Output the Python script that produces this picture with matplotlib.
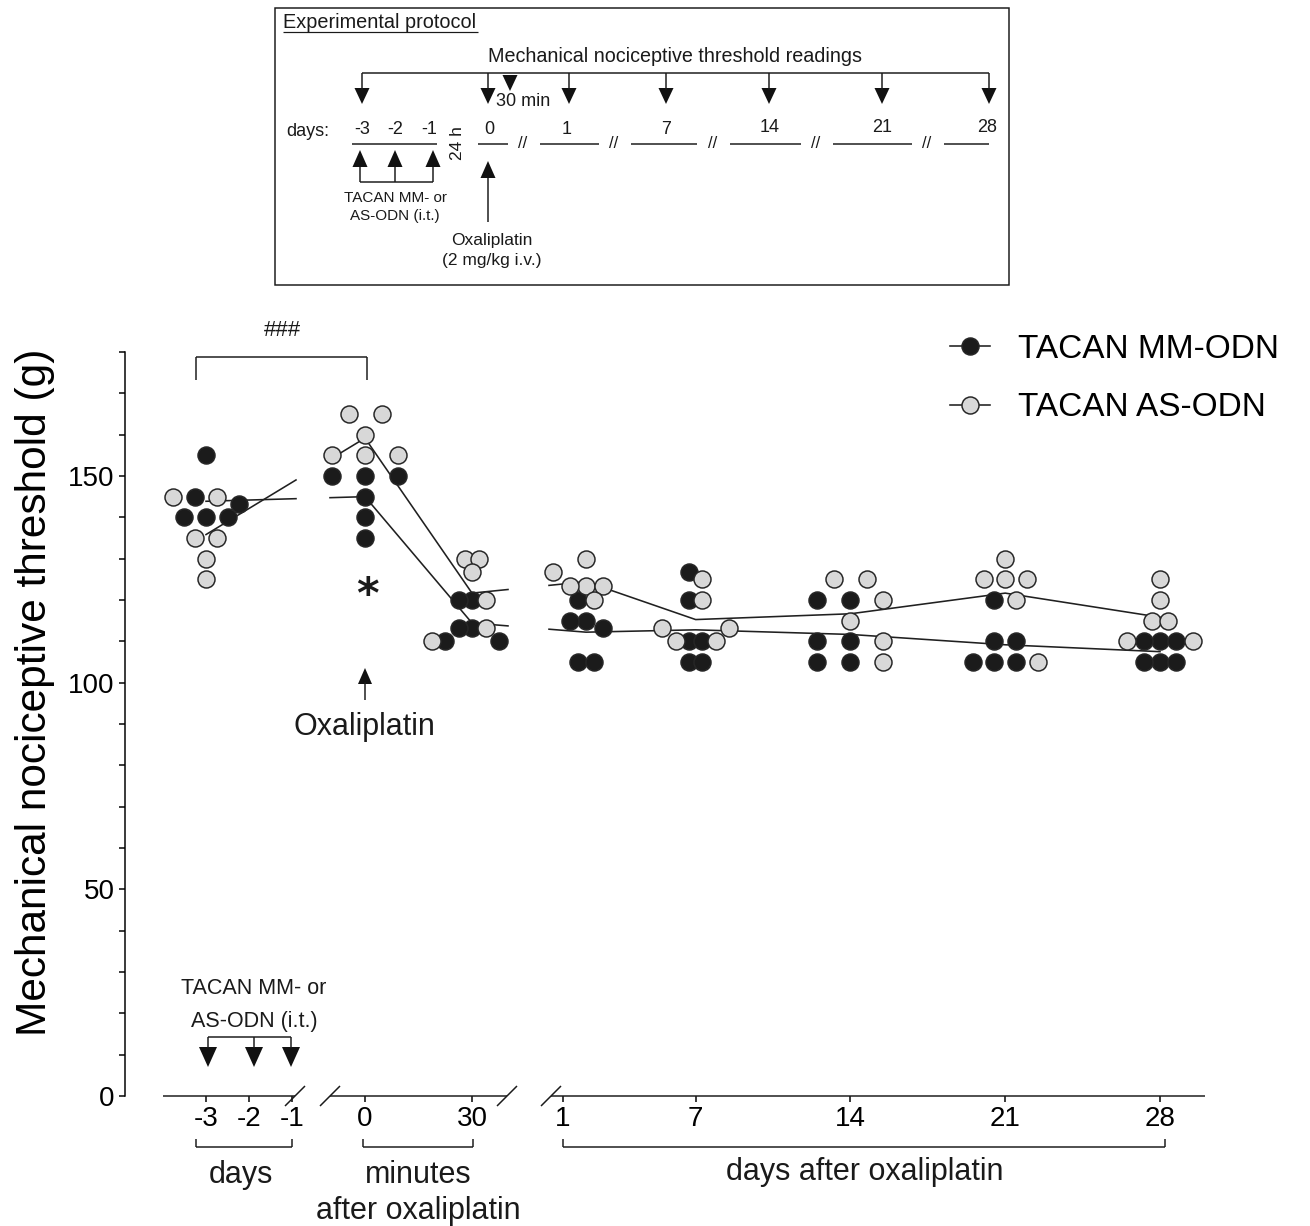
import math
import numpy as np
import matplotlib
matplotlib.use("Agg")
import matplotlib.pyplot as plt
from matplotlib.patches import Polygon, Rectangle

plt.rcParams["font.family"] = ["Liberation Sans", "DejaVu Sans"]

# ---------------------------------------------------------------- data
group_names = ["TACAN MM-ODN", "TACAN AS-ODN"]
pre_day_ticks = [-3, -2, -1]
minute_ticks = [0, 30]
post_day_ticks = [1, 7, 14, 21, 28]
tick_labels = ["-3", "-2", "-1", "0", "30", "1", "7", "14", "21", "28"]

# reading time points: axis segment + time value
reading_segment = ["pre", "min", "min", "post", "post", "post", "post", "post"]
reading_time = [-3, 0, 30, 1, 7, 14, 21, 28]

# individual mechanical nociceptive thresholds (g), one row per time point
mm_odn = [
    [155, 145, 143.3, 140, 140, 140],
    [150, 150, 150, 145, 140, 135],
    [120, 120, 113.3, 113.3, 110, 110],
    [120, 115, 115, 113.3, 105, 105],
    [126.7, 120, 110, 110, 105, 105],
    [120, 120, 110, 110, 105, 105],
    [120, 110, 110, 105, 105, 105],
    [110, 110, 110, 105, 105, 105],
]
as_odn = [
    [145, 145, 135, 135, 130, 125],
    [165, 165, 160, 155, 155, 155],
    [130, 130, 126.7, 120, 113.3, 110],
    [130, 126.7, 123.3, 123.3, 123.3, 120],
    [125, 120, 113.3, 113.3, 110, 110],
    [125, 125, 120, 115, 110, 105],
    [130, 125, 125, 125, 120, 105],
    [125, 120, 115, 115, 110, 110],
]

# ---------------------------------------------------------------- layout
W, H, DPI = 1310, 1226, 100
PX = 72 / DPI  # points per pixel


def pos_pre(d):
    return 206 + (d + 3) * 43.0


def pos_min(m):
    return 365 + m * (107 / 30)


def pos_post(d):
    return 563 + (d - 1) * (597 / 27)


POS = {"pre": pos_pre, "min": pos_min, "post": pos_post}
column_shift = [0, 0, 0, 23, 0, 0, 0, 0]      # day-1 column sits right of its tick
column_spread = [22, 33, 13.5, 16.5, 13.3, 33, 21.7, 16.3]
GAPS = [(296, 330), (508, 549)]
AX_L, AX_R, AX_B, AX_T = 125, 1210, 1096, 352
YMAX = 180
YPX = (AX_B - AX_T) / YMAX

fig = plt.figure(figsize=(W / DPI, H / DPI), dpi=DPI)
ax = fig.add_axes([AX_L / W, 1 - AX_B / H, (AX_R - AX_L) / W, (AX_B - AX_T) / H])
ax.set_xlim(AX_L, AX_R)
ax.set_ylim(0, YMAX)


def swarm(vals_a, vals_b, s, tol=2.0, dmin=15.0):
    items = [(v, 0, i) for i, v in enumerate(vals_a)] + [(v, 1, i) for i, v in enumerate(vals_b)]
    items.sort(key=lambda t: (-t[0], t[1]))
    rows = []
    for it in items:
        if rows and rows[-1][0][0] - it[0] <= tol + 1e-9:
            rows[-1].append(it)
        else:
            rows.append([it])
    order = sorted(range(len(rows)), key=lambda r: (-len(rows[r]), -rows[r][0][0]))
    placed = []
    out = {0: [0.0] * len(vals_a), 1: [0.0] * len(vals_b)}
    for r in order:
        row = rows[r]
        if len(row) % 2:
            cands = [0.0] + [sg * k * s for k in range(1, 15) for sg in (-1, 1)]
        else:
            cands = [sg * (k - 0.5) * s for k in range(1, 15) for sg in (-1, 1)]
        ci = 0
        mine = []
        for v, g, i in row:
            while True:
                c = cands[ci]
                ci += 1
                if all(math.hypot(c - px, (v - pv) * YPX) >= dmin for px, pv in placed):
                    break
            mine.append((c, v))
            out[g][i] = c
        placed.extend(mine)
    return out


def broken(xs, ys, gaps):
    X, Y = [xs[0]], [ys[0]]
    for i in range(1, len(xs)):
        x0, y0, x1, y1 = xs[i - 1], ys[i - 1], xs[i], ys[i]
        for a, b in gaps:
            if x0 < a and x1 > b:
                ya = y0 + (y1 - y0) * (a - x0) / (x1 - x0)
                yb = y0 + (y1 - y0) * (b - x0) / (x1 - x0)
                X += [a, np.nan, b]
                Y += [ya, np.nan, yb]
        X.append(x1)
        Y.append(y1)
    return X, Y


cx = [POS[s](t) + sh for s, t, sh in zip(reading_segment, reading_time, column_shift)]
pts = {0: ([], []), 1: ([], [])}
for k in range(len(cx)):
    offs = swarm(mm_odn[k], as_odn[k], column_spread[k])
    for g, vals in ((0, mm_odn[k]), (1, as_odn[k])):
        for v, o in zip(vals, offs[g]):
            pts[g][0].append(cx[k] + o)
            pts[g][1].append(v)

means = [[float(np.mean(v)) for v in data] for data in (mm_odn, as_odn)]
face = ["#1b1b1b", "#d8d8d8"]
handles = []
for g in (0, 1):
    X, Y = broken(cx, means[g], GAPS)
    ln, = ax.plot(X, Y, color="#202020", lw=1.6 * PX, zorder=2)
    mk, = ax.plot(pts[g][0], pts[g][1], ls="none", marker="o", ms=17 * PX,
                  mfc=face[g], mec="#262626", mew=1.5 * PX, zorder=3 + g, clip_on=False)
    handles.append((ln, mk))

for s in ("top", "right", "bottom"):
    ax.spines[s].set_visible(False)
ax.spines["left"].set_linewidth(1.5 * PX)
ax.set_yticks([0, 50, 100, 150])
ax.set_yticks([v for v in range(10, YMAX + 1, 10) if v % 50], minor=True)
ax.tick_params(axis="y", which="both", direction="out", length=6 * PX, width=1.5 * PX,
               labelsize=20, pad=3)
xt = [pos_pre(d) for d in pre_day_ticks] + [pos_min(m) for m in minute_ticks] + \
     [pos_post(d) for d in post_day_ticks]
ax.set_xticks(xt, tick_labels)
ax.tick_params(axis="x", direction="out", length=6 * PX, width=1.5 * PX, labelsize=20, pad=3)
ax.set_ylabel("Mechanical nociceptive threshold (g)", fontsize=30.5)
ax.yaxis.set_label_coords((35 - AX_L) / (AX_R - AX_L), (AX_B - 692) / (AX_B - AX_T))
ax.yaxis.label.set_va("center")

ax.legend(handles=handles, labels=group_names, loc="upper left",
          bbox_to_anchor=(950 / W, 1 - 334 / H), bbox_transform=fig.transFigure,
          frameon=False, fontsize=24, handlelength=1.2, handletextpad=0.84,
          labelspacing=0.82, borderpad=0, borderaxespad=0, numpoints=1)

# ---------------------------------------------------------------- overlay (pixel coords)
ov = fig.add_axes([0, 0, 1, 1])
ov.set_xlim(0, W)
ov.set_ylim(H, 0)
ov.axis("off")
INK = "#1a1a1a"


def seg(x0, y0, x1, y1, lw=1.5):
    ov.plot([x0, x1], [y0, y1], color=INK, lw=lw * PX, solid_capstyle="butt")


def tri(x, ytip, up, w, h):
    base = ytip + h if up else ytip - h
    ov.add_patch(Polygon([(x - w / 2, base), (x + w / 2, base), (x, ytip)], closed=True,
                         fc="#111111", ec="none"))


def txt(x, y, s, size, **kw):
    ha = kw.pop("ha", "center")
    va = kw.pop("va", "center")
    ov.text(x, y, s, fontsize=size, ha=ha, va=va, color=INK, **kw)


# broken x axis
for a, b in [(163, 295), (330, 507), (551, 1205)]:
    seg(a, AX_B, b, AX_B)
for x in (295, 330, 507, 551):
    seg(x - 10, AX_B + 10, x + 10, AX_B - 10)


def under_bracket(x0, x1, y=1147, up=8):
    seg(x0, y, x1, y)
    seg(x0, y, x0, y - up)
    seg(x1, y, x1, y - up)


under_bracket(196, 292)
under_bracket(363, 473)
under_bracket(563, 1165)
txt(241, 1175, "days", 22)
txt(418, 1175, "minutes", 22)
txt(418, 1211, "after oxaliplatin", 22)
txt(865, 1172, "days after oxaliplatin", 22)

# significance bracket
seg(196, 357, 367, 357)
seg(196, 357, 196, 380)
seg(367, 357, 367, 380)
txt(282, 331, "###", 16)
txt(367, 596, "*", 31, fontweight="bold", family="DejaVu Sans")

# oxaliplatin arrow in plot
seg(365, 700, 365, 682)
tri(365, 668, True, 14, 16)
txt(364, 727, "Oxaliplatin", 22)

# TACAN injection arrows in plot
txt(254, 988, "TACAN MM- or", 15.5)
txt(254, 1021, "AS-ODN (i.t.)", 15.5)
seg(208, 1037, 291, 1037)
for x in (208, 254, 291):
    seg(x, 1037, x, 1048)
    tri(x, 1067, False, 18, 20)

# protocol box
ov.add_patch(Rectangle((275, 8), 734, 277, fill=False, ec=INK, lw=1.5 * PX))
txt(283, 23, "Experimental protocol", 14.3, ha="left")
seg(283, 32, 478, 32, lw=1.2)
txt(675, 57, "Mechanical nociceptive threshold readings", 14.2)
seg(362, 73, 989, 73)
for x in (362, 488, 569, 666, 769, 882, 989):
    seg(x, 73, x, 90)
    tri(x, 104, False, 15, 16)
tri(510, 91, False, 15, 16)
txt(523, 102, "30 min", 13)
txt(308, 131, "days:", 13)
for s, x, y in [("-3", 362, 130), ("-2", 395, 130), ("-1", 429, 130), ("0", 489, 130),
                ("1", 567, 129), ("7", 666, 129), ("14", 770, 127), ("21", 882, 128),
                ("28", 987, 128)]:
    txt(x, y, s, 13)
txt(458, 143, "24 h", 12.5, rotation=90)
for a, b in [(352, 437), (478, 508), (540, 599), (631, 697), (730, 801), (833, 912), (944, 989)]:
    seg(a, 144, b, 144)
for x in (523, 614, 713, 816, 927):
    txt(x, 143, "//", 12)
for x in (360, 395, 433):
    tri(x, 150, True, 15, 17)
    seg(x, 167, x, 182)
seg(360, 182, 433, 182)
txt(395, 198, "TACAN MM- or", 11)
txt(395, 216, "AS-ODN (i.t.)", 11)
tri(488, 161, True, 15, 17)
seg(488, 178, 488, 222)
txt(492, 240, "Oxaliplatin", 12.5)
txt(492, 261, "(2 mg/kg i.v.)", 12.5)

fig.savefig("out.png", dpi=DPI)
